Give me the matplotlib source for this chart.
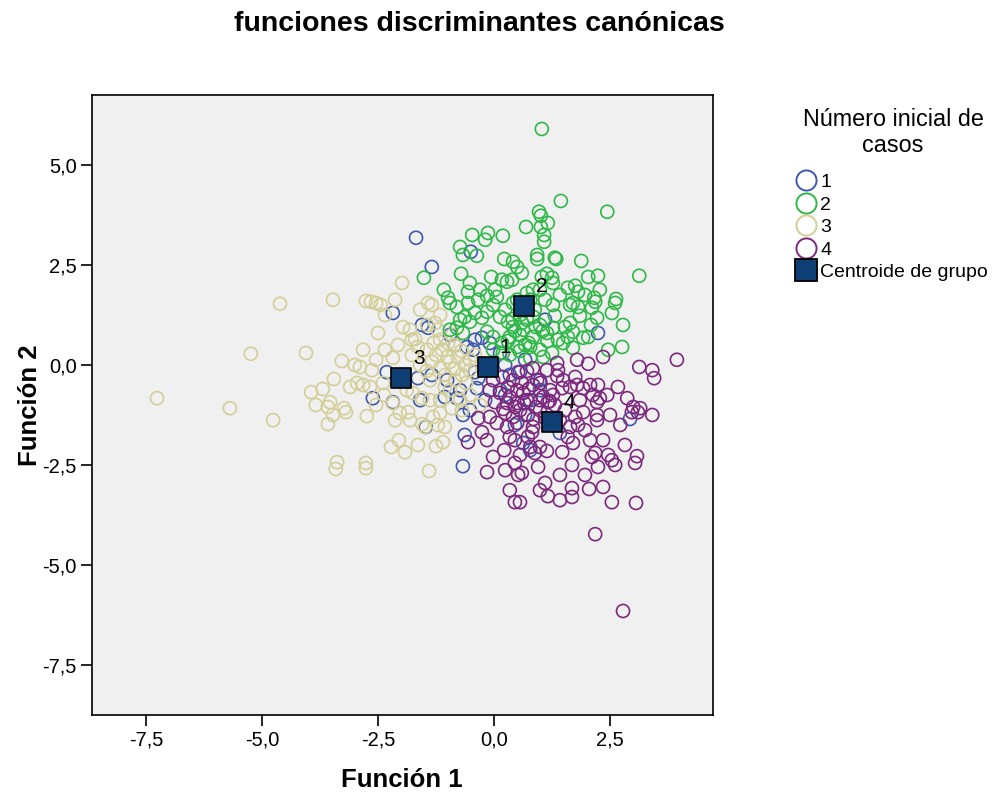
import matplotlib
matplotlib.use("Agg")
import matplotlib.pyplot as plt
from matplotlib.lines import Line2D
from matplotlib.ticker import FixedLocator, FuncFormatter

plt.rcParams['font.family'] = ['Liberation Sans', 'DejaVu Sans']

# grupo 1 (azul)
g1_x = [-1.68, -1.34, -0.50, 2.24, 2.93, -0.67, -0.67, -0.63, -1.47, -2.18, -1.55, -1.42, -0.95,
        -0.41, -0.26, -0.09, -0.58, -0.45, 0.13, -0.41, -0.34, -0.37, -2.31, -1.64, -1.34, -1.01,
        -2.61, -2.18, -1.59, -1.06, -0.80, 1.10, 0.56, 1.42, 0.63, 0.78, -0.52, 0.24, 0.34, 0.13,
        0.99, 0.78, 0.67, 0.45, 0.24, -0.19, -0.73, -0.84, 0.67, 0.99]
g1_y = [3.18, 2.45, 2.83, 0.80, -1.35, -2.53, -1.25, -1.75, -1.55, 1.30, 1.00, 0.93, 0.75,
        0.63, 0.68, 0.55, 0.45, 0.38, 0.30, -0.18, -0.33, -0.58, -0.18, -0.33, -0.25, -0.38,
        -0.83, -0.93, -0.88, -0.80, -0.83, 1.13, -0.18, -1.70, -1.95, -2.13, -1.13, 0.00, -0.25, -0.63,
        -0.63, -0.88, -1.25, -1.50, -0.75, -0.88, -0.63, 0.50, 0.13, -0.38]

# grupo 2 (verde)
g2_x = [1.03, 1.44, 2.44, 0.97, 1.01, 1.16, 0.69, 1.01, 1.08, 1.08, 0.93, 0.93, 1.31, 1.34, 1.88,
        2.24, 2.03, 3.13, 0.60, 1.03, 1.14, 1.25, 1.27, 1.59, 1.75, 1.81, 1.42, 2.16, 2.63, 0.84, 0.71,
        -0.47, -0.13, -0.19, 0.19, -0.73, -0.67, -0.37, 0.22, 0.41, 0.50, -1.51, -0.71, -0.06, 0.17,
        0.28, 0.39, -1.08, -0.56, -0.15, 0.02, 0.06, -0.99,
        1.27, 1.64, 1.81, 1.70, 2.11, 2.18, 2.61, 2.54, 2.78, 2.09, 1.92, 2.03, 1.70, 1.64, 1.53, 1.59,
        1.38, 1.49, 1.70, 2.46, 2.76, 1.27, 1.14, 0.99, 0.71, 0.63, 0.84, 0.78, 0.99, 1.06, 0.78, 1.25,
        -0.95, -0.80, -0.73, -0.63, -0.52, -0.41, -0.26, -0.15, -0.02, 0.13, 0.30, 0.41, 0.56, -0.95,
        -0.80, -0.67, -0.15, -0.02, 0.17, 0.34, 0.50, 0.19, -0.02, 0.41, 0.50,
        0.78, 0.88, 1.10, 0.24, -0.34, -0.56, 0.99, 1.96, 2.28, 2.22, 1.85, 1.31, 0.56, 0.34, 0.67,
        -0.30, -0.52,
        0.45, 0.60, 0.75, 0.90, 1.15, 0.40, 0.85, 1.05, 0.30, 0.55]
g2_y = [5.90, 4.10, 3.83, 3.83, 3.73, 3.55, 3.45, 3.45, 3.25, 3.08, 2.75, 2.65, 2.68, 2.65, 2.60,
        2.23, 2.20, 2.23, 2.30, 2.20, 2.28, 2.18, 2.05, 1.93, 1.98, 1.83, 1.75, 1.68, 1.65, 1.88, 1.80,
        3.25, 3.30, 3.13, 3.23, 2.95, 2.75, 2.73, 2.65, 2.58, 2.45, 2.18, 2.28, 2.20, 2.13,
        2.08, 2.13, 1.88, 1.83, 1.73, 1.88, 1.70, 1.68,
        1.50, 1.50, 1.45, 1.55, 1.43, 1.58, 1.55, 1.30, 1.00, 1.00, 0.68, 0.70, 0.83, 1.05, 0.95, 0.70,
        0.63, 0.55, 0.43, 0.38, 0.45, 0.93, 0.80, 1.00, 1.13, 0.88, 0.70, 0.45, 0.38, 0.20, 0.18, 0.30,
        1.55, 1.45, 1.13, 1.20, 1.08, 1.30, 1.18, 1.33, 1.50, 1.20, 1.08, 0.95, 1.25, 0.88,
        0.93, 0.80, 0.83, 0.70, 0.55, 0.70, 0.45, 0.30, 0.38, 1.55, 1.63,
        1.63, 1.38, 1.63, 1.38, 1.63, 1.55, 1.88, 1.75, 1.88, 1.18, 1.23, 1.23, 0.75, 0.25, 0.50,
        1.88, 2.05,
        0.85, 1.05, 0.55, 0.95, 0.60, 1.15, 1.20, 0.85, 0.60, 0.35]

# grupo 3 (beige)
g3_x = [-7.26, -5.69, -4.76, -5.24, -4.61, -3.47, -4.05, -3.28, -3.45, -3.69, -3.94, -3.84, -3.58,
        -3.53, -3.47, -3.58, -3.23, -3.19, -3.38, -3.41, -3.10, -1.98, -2.76, -2.65, -2.54, -2.44,
        -2.50, -2.82, -2.07, -1.96, -1.81, -1.44, -1.27, -1.21, -1.42, -1.34, -1.64, -1.44, -1.12,
        -0.95, -0.78, -0.63, -3.00, -2.89, -2.95, -2.82, -2.67, -2.39, -1.88, -1.75, -1.38, -1.06,
        -0.95, -1.55, -1.38, -0.73, -2.18, -2.74, -2.05, -2.22, -1.92, -1.64, -1.25, -1.10, -1.49,
        -1.55, -1.21, -1.06, -1.31, -1.16, -2.76, -2.76, -1.40, -2.03, -1.85,
        -1.16, -0.99, -0.84, -0.52, -0.41, -0.52, -0.69, -0.84, -1.16, -1.34, -1.59, -1.77, -2.18,
        -2.35, -2.54, -2.63, -2.37, -2.54, -2.13, -1.81, -1.16, -0.91, -0.69, -0.52, -0.30, -2.35,
        -2.13, -1.59, -1.16, -1.77,
        -1.00, -0.85, -1.25, -1.45, -0.70, -1.05, -0.60, -1.70, -1.30, -0.90]
g3_y = [-0.83, -1.08, -1.38, 0.28, 1.53, 1.63, 0.30, 0.10, -0.35, -0.60, -0.68, -1.00, -1.05,
        -0.93, -1.25, -1.48, -1.08, -1.18, -2.43, -2.60, -0.55, 2.05, 1.60, 1.58, 1.55, 1.50,
        0.80, 0.38, 0.50, 0.95, 0.88, 1.00, 1.05, 0.88, 1.55, 1.50, 0.45, 0.38, 0.38,
        0.08, 0.20, 0.00, 0.00, -0.05, -0.45, -0.50, -0.55, -0.45, -0.63, -0.70, -0.38, -0.55,
        -0.63, -0.83, -0.88, -0.88, -0.95, -1.28, -1.88, -2.05, -2.18, -2.00, -2.03, -1.93, -1.55,
        -1.48, -1.50, -1.55, -1.30, -1.20, -2.45, -2.58, -2.65, -1.20, -1.18,
        0.63, 0.55, 0.50, 0.13, 0.25, -0.13, -0.25, -0.38, -0.08, 0.08, 0.00, 0.25, 0.18,
        0.38, 0.13, -0.13, -0.75, -1.00, -1.38, -1.38, -0.88, -1.08, -1.13, -0.75, -1.00, 1.25,
        1.63, 1.38, 1.25, 0.63,
        0.20, -0.10, 0.25, -0.15, 0.35, -0.25, -0.45, 0.65, 0.55, 0.75]

# grupo 4 (morado)
g4_x = [3.94, 3.13, 3.41, 3.45, 2.35, 1.79, 2.03, 1.36, 1.38, 1.36, 1.14, 0.84, 0.71, 0.93, 0.84,
        1.49, 1.75, 1.79, 2.07, 2.24, 2.67, 1.92, 1.64, 1.47, 1.21, 1.27, 1.06, 0.99, 1.16, 2.13,
        2.22, 2.44, 2.28, 2.87, 3.00, 3.15, 1.85, 0.71, 0.63,
        0.84, 0.82, 0.73, 0.78, 0.88, 0.95, 0.60, 1.10, 1.16, 1.68, 1.68, 2.05, 2.35, 2.54, 3.06,
        0.56, 1.68, 1.47, 1.14, 0.99, 1.59, 1.70, 1.64, 1.81, 1.75, 1.92, 2.22, 2.22, 2.50, 2.97,
        3.10, 3.41, 2.35, 2.18, 2.11, 2.24, 2.46, 2.54, 2.61, 3.08, 3.04, 2.18, 2.78,
        -0.34, -0.09, 0.06, 0.24, 0.41, 0.50, -0.56, -0.26, -0.15, 0.28, 0.34, 0.45, -0.02, 0.22,
        0.45, 0.52, -0.15, 0.34, 0.45, -0.02, 0.19, 0.41, 0.52, -0.09, 0.13, 0.34, 0.50, 0.02,
        0.28, 0.50,
        0.56, 0.73, 0.99, 1.10, 1.31, 1.53, 1.96, 2.07, 1.42, 0.56, 0.24, 1.42, 1.96, 2.72, 2.82,
        1.42, 0.99,
        0.60, 0.75, 0.90, 0.45, 0.30, 0.65, 1.00, 0.20, 0.85, 1.20]
g4_y = [0.13, -0.05, -0.13, -0.33, 0.20, 0.13, 0.03, 0.05, -0.13, -0.28, -0.13, -0.08, -0.15,
        -0.38, -0.50, -0.38, -0.30, -0.50, -0.50, -0.50, -0.55, -0.58, -0.55, -0.58, -0.63, -0.75,
        -0.80, -0.88, -0.93, -0.75, -0.93, -0.75, -0.83, -0.83, -1.05, -1.08, -0.88, -0.88, -0.70,
        -1.55, -1.68, -1.80, -2.05, -2.20, -2.55, -2.70, -2.95, -3.28, -3.08, -3.30, -3.10, -3.05,
        -3.43, -3.45, -3.43, -2.50, -2.18, -2.15, -2.05, -1.80, -1.95, -1.55, -1.50, -1.30, -1.18,
        -1.25, -1.38, -1.25, -1.18, -1.18, -1.25, -1.88, -2.20, -2.30, -2.55, -2.25, -2.38, -2.50,
        -2.28, -2.45, -4.23, -6.15,
        -1.33, -1.30, -1.45, -1.20, -1.30, -1.45, -1.93, -1.68, -1.88, -1.55, -1.80, -1.88, -2.30,
        -2.13, -2.45, -2.75, -2.68, -3.13, -3.43, -0.38, -0.30, -0.38, -0.18, -0.63, -0.70, -0.80,
        -0.63, -0.93, -0.95, -0.95,
        -1.13, -1.25, -1.13, -1.33, -1.00, -1.13, -1.63, -1.88, -1.38, -2.25, -2.63, -2.75, -2.75,
        -1.50, -2.00, -3.38, -3.13,
        -0.45, -0.60, -1.05, -1.05, -0.55, -0.95, -0.45, -1.10, -1.35, -0.90]

# centroides de grupo
cent_labels = ['1', '2', '3', '4']
cent_x = [-0.13, 0.65, -2.00, 1.25]
cent_y = [-0.05, 1.48, -0.33, -1.43]

colors = ['#3E58AC', '#2EB848', '#D3CE97', '#7C287D']
groups = [(g1_x, g1_y), (g2_x, g2_y), (g3_x, g3_y), (g4_x, g4_y)]

fig = plt.figure(figsize=(9.93, 7.96), dpi=100)
ax = fig.add_axes([0.0927, 0.1018, 0.6254, 0.7789])
ax.set_facecolor('#F0F0F0')

for i in [0, 2, 1, 3]:
    gx, gy = groups[i]
    ax.scatter(gx, gy, s=88, facecolors='none', edgecolors=colors[i], linewidths=1.2, zorder=2)

ax.scatter(cent_x, cent_y, s=190, marker='s', facecolor='#0D3F74', edgecolor='black',
           linewidths=1.2, zorder=4)
for lab, cx, cy in zip(cent_labels, cent_x, cent_y):
    ax.annotate(lab, (cx, cy), xytext=(8.5, 7), textcoords='offset points',
                ha='left', va='bottom', fontsize=15, zorder=5)

ax.set_xlim(-8.66, 4.72)
ax.set_ylim(-8.75, 6.75)
ax.xaxis.set_major_locator(FixedLocator([-7.5, -5.0, -2.5, 0.0, 2.5]))
ax.yaxis.set_major_locator(FixedLocator([-7.5, -5.0, -2.5, 0.0, 2.5, 5.0]))
fmt = FuncFormatter(lambda v, p: f"{v:.1f}".replace('.', ','))
ax.xaxis.set_major_formatter(fmt)
ax.yaxis.set_major_formatter(fmt)
ax.tick_params(direction='out', length=8, width=1.2, pad=3, labelsize=14.5)
for sp in ax.spines.values():
    sp.set_linewidth(1.2)

fig.text(402 / 993, 1 - 780 / 796, 'Función 1', fontsize=18.5, fontweight='bold',
         ha='center', va='center')
fig.text(30 / 993, 1 - 405 / 796, 'Función 2', fontsize=18.5, fontweight='bold',
         ha='center', va='center', rotation=90)
fig.text(479 / 993, 1 - 24 / 796, 'funciones discriminantes canónicas', fontsize=20.5,
         fontweight='bold', ha='center', va='center')

# leyenda
fig.text(893 / 993, 1 - 120 / 796, 'Número inicial de', fontsize=16.8, ha='center', va='center')
fig.text(893 / 993, 1 - 145 / 796, 'casos', fontsize=16.8, ha='center', va='center')
handles = [Line2D([], [], marker='o', linestyle='none', markersize=14.5, markerfacecolor='none',
                  markeredgecolor=c, markeredgewidth=1.4) for c in colors]
handles.append(Line2D([], [], marker='s', linestyle='none', markersize=16,
                      markerfacecolor='#0D3F74', markeredgecolor='black', markeredgewidth=1.3))
fig.legend(handles, cent_labels + ['Centroide de grupo'], loc='upper left',
           bbox_to_anchor=(0.801, 0.782), bbox_transform=fig.transFigure, frameon=False,
           fontsize=14, handletextpad=0.18, labelspacing=0.25, handlelength=1.1,
           borderaxespad=0, borderpad=0)

fig.savefig('out.png', dpi=100)
